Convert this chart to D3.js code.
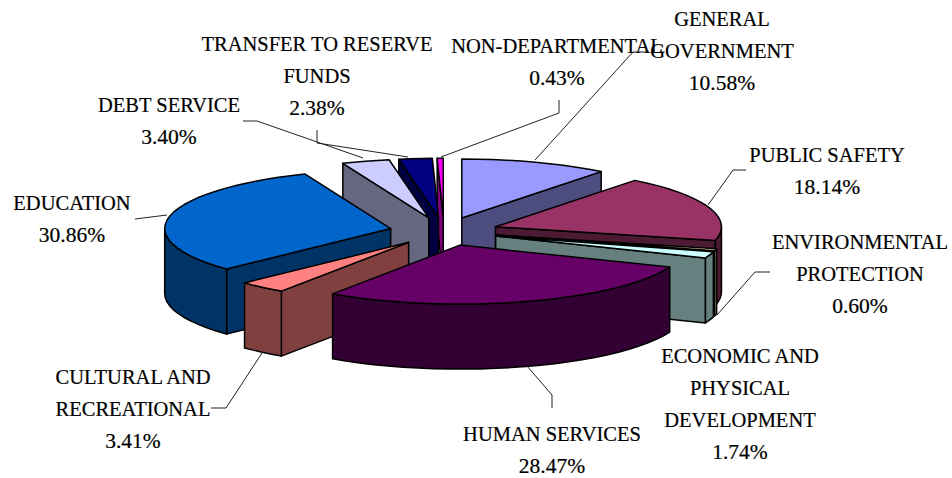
<!DOCTYPE html>
<html>
<head>
<meta charset="utf-8">
<script src="https://cdn.jsdelivr.net/npm/d3@7"></script>
<style>
  html, body { margin: 0; padding: 0; background: #fff; }
  text { font-family: "Liberation Serif", serif; font-size: 20.5px; fill: #000; stroke: #000; stroke-width: 0.2px; text-anchor: middle; }
  tspan.pct { font-size: 21.5px; }
</style>
</head>
<body>
<div id="chart"></div>
<script>
var categories = ["GENERAL GOVERNMENT", "PUBLIC SAFETY", "ENVIRONMENTAL PROTECTION",
  "ECONOMIC AND PHYSICAL DEVELOPMENT", "HUMAN SERVICES", "CULTURAL AND RECREATIONAL",
  "EDUCATION", "DEBT SERVICE", "TRANSFER TO RESERVE FUNDS", "NON-DEPARTMENTAL"];
var values = [10.58, 18.14, 0.60, 1.74, 28.47, 3.41, 30.86, 3.40, 2.38, 0.43];
var topColors = ["#9999ff", "#993366", "#ffffcc", "#ccffff", "#660066",
  "#ff8080", "#0066cc", "#ccccff", "#000080", "#ff00ff"];
var sideColors = ["#4d4d80", "#4d1a33", "#808066", "#668080", "#330033",
  "#804040", "#003366", "#666680", "#000040", "#800080"];

// back to front
var drawOrder = [9, 8, 7, 0, 1, 2, 3, 6, 5, 4];

// label lines, split the way the chart wraps them
var labelLines = [["GENERAL", "GOVERNMENT"], ["PUBLIC SAFETY"], ["ENVIRONMENTAL", "PROTECTION"],
  ["ECONOMIC AND", "PHYSICAL", "DEVELOPMENT"], ["HUMAN SERVICES"], ["CULTURAL AND", "RECREATIONAL"],
  ["EDUCATION"], ["DEBT SERVICE"], ["TRANSFER TO RESERVE", "FUNDS"], ["NON-DEPARTMENTAL"]];

// layout of the labels: center x and first baseline
var labelX = [722, 827, 860, 740, 552, 133, 72, 169, 317, 557];
var labelY = [26, 162, 249, 363, 441, 384, 210, 112, 51, 53];
var lineGap = 32;

var leaders = [
  [[649, 52], [633, 52], [535, 160]],
  [[746, 170], [733, 170], [708, 205]],
  [[770, 272], [755, 272], [717, 315]],
  [[527, 366], [552, 395], [552, 408]],
  [[262, 353], [226, 408], [211, 408]],
  [[167, 215], [135, 219]],
  [[243, 121], [257, 121], [363, 158]],
  [[317, 130], [317, 143], [408, 157]],
  [[559, 100], [559, 113], [441, 157]]
];

var width = 952, height = 478;
var cx = 444, cy = 231.5, rx = 226, ry = 59, depth = 65, explode = 0.2412;

var x = d3.scaleLinear().domain([-1, 1]).range([cx - rx, cx + rx]);
var y = d3.scaleLinear().domain([-1, 1]).range([cy - ry, cy + ry]);

var svg = d3.select("#chart").append("svg")
    .attr("width", width)
    .attr("height", height)
    .style("display", "block");

var slices = d3.pie().sort(null).value(function(d){return d;})(values);

var line = d3.line();

// a point of the slice's top face, r from its own apex
var pt = function(s, r, a, drop){
  var mid = (s.startAngle + s.endAngle) / 2;
  return [x(explode * Math.sin(mid) + r * Math.sin(a)),
          y(-explode * Math.cos(mid) - r * Math.cos(a)) + (drop || 0)];
};

var rim = function(s, a0, a1, drop){
  var n = Math.max(1, Math.ceil((a1 - a0) / 0.07));
  return d3.range(n + 1).map(function(i){ return pt(s, 1, a0 + (a1 - a0) * i / n, drop); });
};

var wall = function(s, a){
  return line([pt(s, 0, a), pt(s, 1, a), pt(s, 1, a, depth), pt(s, 0, a, depth)]) + "Z";
};

var pie = svg.append("g").attr("class", "pie");

drawOrder.forEach(function(i){
  var s = slices[i];
  var g = pie.append("g")
      .attr("stroke", "#000")
      .attr("stroke-width", 1.5)
      .attr("stroke-linejoin", "round");

  if(Math.sin(s.startAngle) < -1e-6){
    g.append("path").attr("d", wall(s, s.startAngle)).attr("fill", sideColors[i]);
  }
  if(Math.sin(s.endAngle) > 1e-6){
    g.append("path").attr("d", wall(s, s.endAngle)).attr("fill", sideColors[i]);
  }

  // outer wall, only the part that faces the viewer
  var a0 = Math.max(s.startAngle, Math.PI / 2), a1 = Math.min(s.endAngle, 3 * Math.PI / 2);
  if(a1 > a0){
    g.append("path")
        .attr("d", line(rim(s, a0, a1).concat(rim(s, a0, a1, depth).reverse())) + "Z")
        .attr("fill", sideColors[i]);
  }

  g.append("path")
      .attr("d", line([pt(s, 0, s.startAngle)].concat(rim(s, s.startAngle, s.endAngle))) + "Z")
      .attr("fill", topColors[i]);
});

svg.append("g").selectAll("path")
    .data(leaders)
  .enter().append("path")
    .attr("d", function(d){return line(d);})
    .attr("fill", "none")
    .attr("stroke", "#222")
    .attr("stroke-width", 1);

var labels = svg.selectAll(".label")
    .data(categories)
  .enter().append("text")
    .attr("class", "label");

labels.each(function(d, i){
  var rows = labelLines[i].concat([d3.format(".2f")(values[i]) + "%"]);
  d3.select(this).selectAll("tspan")
      .data(rows)
    .enter().append("tspan")
      .attr("class", function(r, j){return j == rows.length - 1 ? "pct" : null;})
      .attr("x", labelX[i])
      .attr("y", function(r, j){return labelY[i] + j * lineGap;})
      .text(function(r){return r;});
});
</script>
</body>
</html>
